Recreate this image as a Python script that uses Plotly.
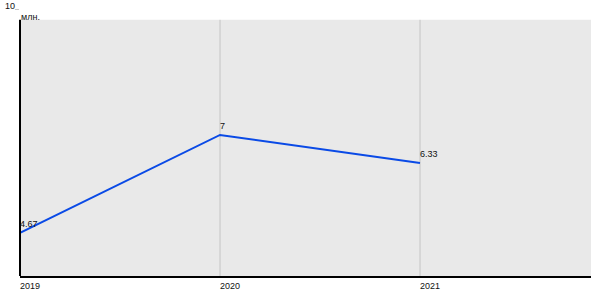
import plotly.graph_objects as go

years = [2019, 2020, 2021]
values = [4.67, 7, 6.33]
value_labels = ["4.67", "7", "6.33"]
unit_label = "млн."
y_top_label = "10"

FONT = "Liberation Sans, Arial, sans-serif"
y_min, y_max = 3.64, 10
x_min, x_max = 2019, 2021.855
fill_top = (280 - 20) / 271.0

fig = go.Figure()
fig.add_trace(go.Scatter(
    x=years, y=values, mode="lines",
    line=dict(color="#0a4ae6", width=2),
    hoverinfo="skip",
))

shapes = [
    dict(type="rect", xref="paper", yref="paper", x0=0, x1=1, y0=0, y1=fill_top,
         fillcolor="#e9e9e9", line=dict(width=0), layer="below"),
]
for yr in years[1:]:
    shapes.append(dict(type="line", xref="x", yref="paper", x0=yr, x1=yr, y0=0, y1=fill_top,
                       line=dict(color="#c4c4c4", width=1), layer="below"))
shapes.append(dict(type="line", xref="paper", yref="paper", x0=0, x1=0, y0=0, y1=fill_top,
                   line=dict(color="#000", width=2), layer="above"))

annotations = [
    dict(text=y_top_label, xref="paper", yref="paper", x=-0.006, y=1.0, xanchor="right",
         yanchor="bottom", yshift=-4, showarrow=False, font=dict(family=FONT, size=9, color="#111")),
    dict(text=unit_label, xref="paper", yref="paper", x=0, y=1.0, xanchor="left",
         yanchor="top", yshift=-1, xshift=-1, showarrow=False, font=dict(family=FONT, size=9, color="#111")),
]
for xv, yv, lab in zip(years, values, value_labels):
    annotations.append(dict(text=lab, x=xv, y=yv, xref="x", yref="y", xanchor="left",
                            yanchor="bottom", xshift=-2, yshift=2, showarrow=False,
                            font=dict(family=FONT, size=9, color="#111")))

fig.update_layout(
    width=600, height=300,
    margin=dict(l=20, r=9, t=9, b=20),
    paper_bgcolor="white", plot_bgcolor="white",
    showlegend=False,
    shapes=shapes,
    font=dict(family=FONT, size=9, color="#111"),
    xaxis=dict(range=[x_min, x_max], tickvals=years, ticktext=[str(y) for y in years],
               showgrid=False, zeroline=False, showline=True, linecolor="#000", linewidth=2,
               ticks="", ticklabelshift=10, tickfont=dict(family=FONT, size=9, color="#111")),
    yaxis=dict(range=[y_min, y_max], tickvals=[10], ticktext=[""],
               showgrid=True, gridcolor="#c4c4c4", gridwidth=1, zeroline=False, showline=False,
               ticks="outside", ticklen=4, tickcolor="#c4c4c4", tickwidth=1),
    annotations=annotations,
)

fig.write_html("out.html")
